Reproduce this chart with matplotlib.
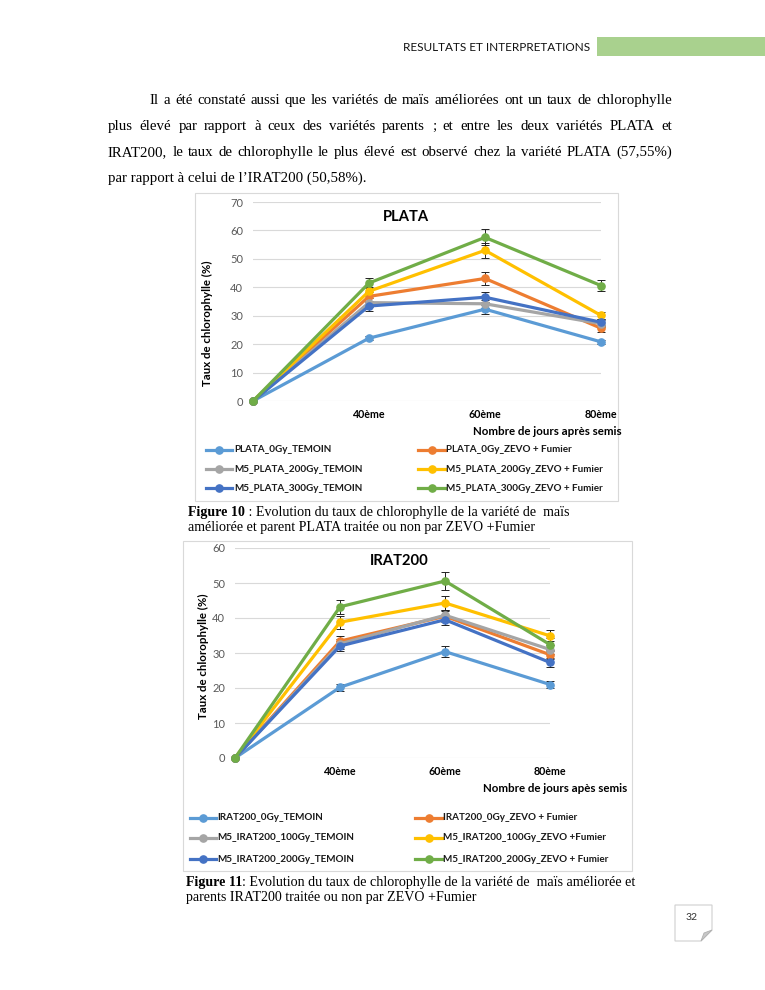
import matplotlib
matplotlib.use("Agg")
import matplotlib.pyplot as plt
from matplotlib.lines import Line2D
from matplotlib.patches import Rectangle, Polygon

W, H = 765, 990
fig = plt.figure(figsize=(W / 100, H / 100), dpi=100)
fig.patch.set_facecolor("white")
R = fig.canvas.get_renderer()

SANS = ["Lato", "DejaVu Sans"]
SERIF = ["Liberation Serif", "DejaVu Serif"]

# ---------------- data ----------------
days = ["", "40ème", "60ème", "80ème"]
colors = ["#5B9BD5", "#ED7D31", "#A5A5A5", "#FFC000", "#4472C4", "#70AD47"]

plata_names = ["PLATA_0Gy_TEMOIN", "PLATA_0Gy_ZEVO + Fumier",
               "M5_PLATA_200Gy_TEMOIN", "M5_PLATA_200Gy_ZEVO + Fumier",
               "M5_PLATA_300Gy_TEMOIN", "M5_PLATA_300Gy_ZEVO + Fumier"]
plata_vals = [
    [0, 22.1, 32.3, 20.8],
    [0, 36.8, 43.1, 25.6],
    [0, 34.6, 34.2, 27.2],
    [0, 38.6, 53.0, 30.1],
    [0, 33.4, 36.5, 27.7],
    [0, 41.5, 57.55, 40.6],
]
plata_err = [
    [0, 0.8, 1.6, 0.8],
    [0, 1.5, 2.3, 1.3],
    [0, 1.5, 1.5, 1.2],
    [0, 1.5, 2.7, 1.3],
    [0, 1.6, 1.8, 1.2],
    [0, 1.9, 2.8, 2.0],
]

irat_names = ["IRAT200_0Gy_TEMOIN", "IRAT200_0Gy_ZEVO + Fumier",
              "M5_IRAT200_100Gy_TEMOIN", "M5_IRAT200_100Gy_ZEVO +Fumier",
              "M5_IRAT200_200Gy_TEMOIN", "M5_IRAT200_200Gy_ZEVO + Fumier"]
irat_vals = [
    [0, 20.2, 30.4, 21.0],
    [0, 33.4, 40.5, 29.5],
    [0, 32.6, 40.8, 31.0],
    [0, 38.8, 44.3, 34.9],
    [0, 32.0, 39.5, 27.3],
    [0, 43.2, 50.58, 32.4],
]
irat_err = [
    [0, 1.0, 1.5, 1.0],
    [0, 1.5, 1.5, 1.3],
    [0, 1.5, 1.5, 1.3],
    [0, 1.9, 2.0, 1.6],
    [0, 1.5, 1.5, 1.2],
    [0, 2.0, 2.5, 1.8],
]

plata_yticks = list(range(0, 71, 10))
irat_yticks = list(range(0, 61, 10))

# ---------------- helpers ----------------
def fx(x):
    return x / W

def fy(y):
    return 1 - y / H

def width_px(s, size, family, weight="normal"):
    t = fig.text(0, 0, s, fontsize=size, family=family, weight=weight)
    w = t.get_window_extent(R).width
    t.remove()
    return w

def fit_size(s, target, family, weight="normal"):
    return 10 * target / width_px(s, 10, family, weight)

def justify(line, x0, x1, y, size, family):
    words = line.split(" ")
    ws = [width_px(w, size, family) for w in words]
    gap = (x1 - x0 - sum(ws)) / (len(words) - 1)
    x = x0
    for w, wd in zip(words, ws):
        fig.text(fx(x), fy(y), w, fontsize=size, family=family,
                 va="baseline", ha="left", color="black")
        x += wd + gap

# ---------------- header ----------------
hs = fit_size("RESULTATS ET INTERPRETATIONS", 187, SANS)
fig.text(fx(403), fy(51), "RESULTATS ET INTERPRETATIONS", fontsize=hs,
         family=SANS, va="baseline", color="#111111")
fig.add_artist(Rectangle((fx(597), fy(56)), fx(765) - fx(597), (56 - 37) / H,
                         transform=fig.transFigure, facecolor="#A9D18E",
                         edgecolor="none"))

# ---------------- body text ----------------
last = "par rapport à celui de l\u2019IRAT200 (50,58%)."
bs = fit_size(last, 257, SERIF)
justify("Il a été constaté aussi que les variétés de maïs améliorées ont un taux de chlorophylle",
        150, 672, 104, bs, SERIF)
justify("plus élevé par rapport à ceux des variétés parents ; et entre les deux variétés PLATA et",
        108, 672, 130, bs, SERIF)
justify("IRAT200, le taux de chlorophylle le plus élevé est observé chez la variété PLATA (57,55%)",
        108, 672, 156, bs, SERIF)
fig.text(fx(108), fy(182), last, fontsize=bs, family=SERIF, va="baseline")

# ---------------- charts ----------------
def chart(box, plot, yticks, names, vals, errs, title, tcenter, ylab_xy,
          xlab, xlab_xy, leg_rows, leg_cols, ymax):
    bx0, by0, bx1, by1 = box
    fig.add_artist(Rectangle((fx(bx0), fy(by1)), (bx1 - bx0) / W, (by1 - by0) / H,
                             transform=fig.transFigure, facecolor="none",
                             edgecolor="#D9D9D9", lw=0.8, zorder=-1))
    px0, py0, px1, py1 = plot  # left, top(ymax), right, bottom(0)
    ax = fig.add_axes([fx(px0), fy(py1), (px1 - px0) / W, (py1 - py0) / H])
    ax.set_facecolor("none")
    for s in ax.spines.values():
        s.set_visible(False)
    ax.set_xlim(0, len(days) - 1)
    ax.set_ylim(0, ymax)
    ax.set_yticks(yticks)
    ax.set_xticks(range(len(days)))
    ax.set_xticklabels(days)
    ax.yaxis.grid(True, color="#D9D9D9", lw=0.8)
    ax.set_axisbelow(True)
    ax.tick_params(axis="both", length=0)
    ax.tick_params(axis="y", pad=7, labelcolor="#595959", labelsize=8)
    ax.tick_params(axis="x", pad=6, labelcolor="black", labelsize=7.7)
    for lab in ax.get_xticklabels():
        lab.set_fontweight("bold")
        lab.set_family(SANS)
    for lab in ax.get_yticklabels():
        lab.set_family(SANS)
    x = list(range(len(days)))
    for v, e, c in zip(vals, errs, colors):
        ax.errorbar(x, v, yerr=e, color=c, lw=2.3, marker="o", ms=5.2,
                    ecolor="#222222", elinewidth=0.7, capsize=2.7, capthick=0.7,
                    clip_on=False, zorder=3)
    fig.text(fx(tcenter[0]), fy(tcenter[1]), title, fontsize=10.6,
             weight="bold", family=SANS, ha="center", va="center")
    fig.text(fx(ylab_xy[0]), fy(ylab_xy[1]), "Taux de chlorophylle (%)",
             fontsize=8.3, weight="bold", family=SANS, rotation=90,
             ha="center", va="center")
    fig.text(fx(xlab_xy[0]), fy(xlab_xy[1]), xlab, fontsize=8.3,
             weight="bold", family=SANS, ha="right", va="center")
    for i, (n, c) in enumerate(zip(names, colors)):
        r, col = divmod(i, 2)
        yy = fy(leg_rows[r])
        lx0, lx1, tx = leg_cols[col]
        fig.add_artist(Line2D([fx(lx0), fx(lx1)], [yy, yy], color=c, lw=2.3,
                              transform=fig.transFigure))
        fig.add_artist(Line2D([fx((lx0 + lx1) / 2)], [yy], color=c, marker="o",
                              ms=5.2, transform=fig.transFigure))
        fig.text(fx(tx), yy, n, fontsize=7.1, weight="bold", family=SANS,
                 ha="left", va="center", color="#1a1a1a")
    return ax

chart(box=(195, 193, 618, 501), plot=(253, 202, 601, 401), yticks=plata_yticks,
      names=plata_names, vals=plata_vals, errs=plata_err, title="PLATA",
      tcenter=(406, 217), ylab_xy=(207, 323), xlab="Nombre de jours après semis",
      xlab_xy=(622, 432), leg_rows=(450, 469, 488),
      leg_cols=((206, 232, 234), (418, 445, 446)), ymax=70)

chart(box=(183, 541, 632, 871), plot=(235, 548, 550, 758), yticks=irat_yticks,
      names=irat_names, vals=irat_vals, errs=irat_err, title="IRAT200",
      tcenter=(399, 561), ylab_xy=(203, 656), xlab="Nombre de jours apès semis",
      xlab_xy=(627, 789), leg_rows=(818, 838, 859),
      leg_cols=((190, 216, 217), (415, 442, 443)), ymax=60)

# ---------------- captions ----------------
def caption(x, y, bold, rest, size):
    fig.text(fx(x), fy(y), bold, fontsize=size, weight="bold", family=SERIF,
             va="baseline")
    w = width_px(bold, size, SERIF, "bold")
    fig.text(fx(x + w), fy(y), rest, fontsize=size, family=SERIF, va="baseline")

cs = 10.1
caption(188, 516, "Figure 10", " : Evolution du taux de chlorophylle de la variété de  maïs", cs)
fig.text(fx(188), fy(531), "améliorée et parent PLATA traitée ou non par ZEVO +Fumier",
         fontsize=cs, family=SERIF, va="baseline")
caption(186, 886, "Figure 11", ": Evolution du taux de chlorophylle de la variété de  maïs améliorée et", cs)
fig.text(fx(186), fy(901), "parents IRAT200 traitée ou non par ZEVO +Fumier",
         fontsize=cs, family=SERIF, va="baseline")

# ---------------- page number ----------------
px0, py0, px1, py1 = 675, 905, 712, 941
fig.add_artist(Polygon([(fx(px0), fy(py0)), (fx(px1), fy(py0)), (fx(px1), fy(py1 - 11)),
                        (fx(px1 - 11), fy(py1)), (fx(px0), fy(py1))],
                       closed=True, transform=fig.transFigure, facecolor="white",
                       edgecolor="#CFCFCF", lw=0.8))
fig.add_artist(Polygon([(fx(px1), fy(py1 - 11)), (fx(px1 - 11), fy(py1)),
                        (fx(px1 - 8), fy(py1 - 8))],
                       closed=True, transform=fig.transFigure, facecolor="#C8C8C8",
                       edgecolor="#B0B0B0", lw=0.6))
fig.text(fx(692), fy(917), "32", fontsize=7.5, family=SANS, ha="center",
         va="center", color="#333333")

fig.savefig("out.png", dpi=100, facecolor="white")
